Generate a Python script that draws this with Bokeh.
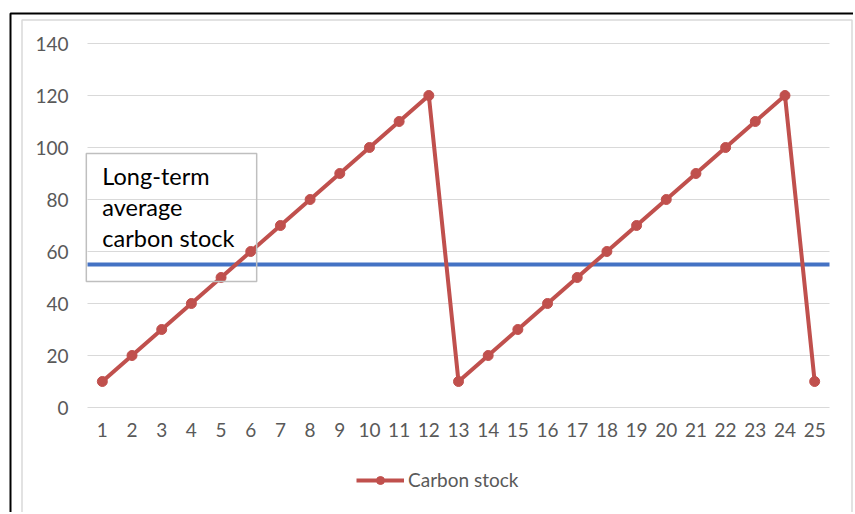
from bokeh.plotting import figure
from bokeh.models import (Range1d, FixedTicker, BoxAnnotation, Label,
                          Legend, LegendItem)
from bokeh.embed import file_html
from bokeh.resources import INLINE

# ---- data ----
periods = [1, 2, 3, 4, 5, 6, 7, 8, 9, 10, 11, 12, 13,
           14, 15, 16, 17, 18, 19, 20, 21, 22, 23, 24, 25]
carbon_stock = [10, 20, 30, 40, 50, 60, 70, 80, 90, 100, 110, 120, 10,
                20, 30, 40, 50, 60, 70, 80, 90, 100, 110, 120, 10]
long_term_average = 55
y_ticks = [0, 20, 40, 60, 80, 100, 120, 140]
series_name = "Carbon stock"
box_text = "Long-term\naverage\ncarbon stock"

RED = "#C0504D"
BLUE = "#4472C4"
GRID = "#D9D9D9"
TXT = "#595959"
FONT = "Lato"

# ---- layout (pixels) ----
W, H = 853, 512
PLOT_L, PLOT_R, PLOT_T, PLOT_B = 87, 829, 43, 407   # plot-area edges on canvas

x_lo, x_hi = periods[0] - 0.5, periods[-1] + 0.5
y_lo, y_hi = y_ticks[0], y_ticks[-1]
ppx = (PLOT_R - PLOT_L) / (x_hi - x_lo)
ppy = (PLOT_B - PLOT_T) / (y_hi - y_lo)
x_range = Range1d(x_lo - PLOT_L / ppx, x_hi + (W - PLOT_R) / ppx)
y_range = Range1d(y_lo - (H - PLOT_B) / ppy, y_hi + PLOT_T / ppy)

p = figure(width=W, height=H, output_backend="svg", toolbar_location=None,
           x_range=x_range, y_range=y_range,
           min_border_left=0, min_border_right=0,
           min_border_top=0, min_border_bottom=0)
p.outline_line_color = None
p.background_fill_color = "white"
p.border_fill_color = "white"

# axes (fixed inside the frame)
p.xaxis.ticker = FixedTicker(ticks=periods)
p.yaxis.ticker = FixedTicker(ticks=y_ticks)
p.xaxis.fixed_location = y_lo
p.yaxis.fixed_location = x_lo
for ax in (p.xaxis[0], p.yaxis[0]):
    ax.axis_line_color = None
    ax.major_tick_line_color = None
    ax.minor_tick_line_color = None
    ax.major_tick_in = 0
    ax.major_tick_out = 0
    ax.major_label_text_font = FONT
    ax.major_label_text_font_size = "19px"
    ax.major_label_text_color = TXT
p.yaxis.major_label_standoff = 19
p.xaxis.major_label_standoff = 15

# horizontal gridlines limited to the plot area
p.xgrid.grid_line_color = None
p.ygrid.grid_line_color = None
p.segment(x0=[x_lo] * len(y_ticks), x1=[x_hi] * len(y_ticks),
          y0=y_ticks, y1=y_ticks, line_color=GRID, line_width=1,
          level="underlay")

# long-term average line
p.segment(x0=[x_lo], x1=[x_hi], y0=[long_term_average], y1=[long_term_average],
          line_color=BLUE, line_width=4, level="underlay")

# series
r_line = p.line(periods, carbon_stock, line_color=RED, line_width=4)
r_pts = p.scatter(periods, carbon_stock, size=10, fill_color=RED,
                  line_color=RED, marker="circle")

# text box
box = BoxAnnotation(left=0.46, right=6.2, bottom=48.5, top=97.7,
                    fill_color=None, fill_alpha=0, line_alpha=1,
                    line_color="#BFBFBF", line_width=1.5, level="overlay")
p.add_layout(box)
lbl = Label(x=1.0, y=94.3, text=box_text, text_font=FONT,
            text_font_size="23.5px", text_color="#000000",
            text_baseline="top", text_align="left", text_line_height=1.1)
p.add_layout(lbl)

# decorative chart borders (canvas units)
outer = BoxAnnotation(left=10, right=W + 60, top=13, bottom=H + 60,
                      left_units="canvas", right_units="canvas",
                      top_units="canvas", bottom_units="canvas",
                      fill_color=None, fill_alpha=0, line_color="black",
                      line_alpha=1, line_width=2, level="overlay")
inner = BoxAnnotation(left=21.5, right=W - 1.5, top=19.5, bottom=H + 60,
                      left_units="canvas", right_units="canvas",
                      top_units="canvas", bottom_units="canvas",
                      fill_color=None, fill_alpha=0, line_color=GRID,
                      line_alpha=1, line_width=1.5, level="overlay")
p.add_layout(outer)
p.add_layout(inner)

legend = Legend(items=[LegendItem(label=series_name, renderers=[r_line, r_pts])],
                orientation="horizontal", location=(356, 21),
                label_text_font=FONT, label_text_font_size="19px",
                label_text_color=TXT, glyph_width=48, glyph_height=20,
                label_standoff=4, border_line_color=None,
                background_fill_alpha=0, margin=0, padding=4, spacing=0)
p.add_layout(legend)

open("out.html", "w").write(file_html(p, INLINE))
